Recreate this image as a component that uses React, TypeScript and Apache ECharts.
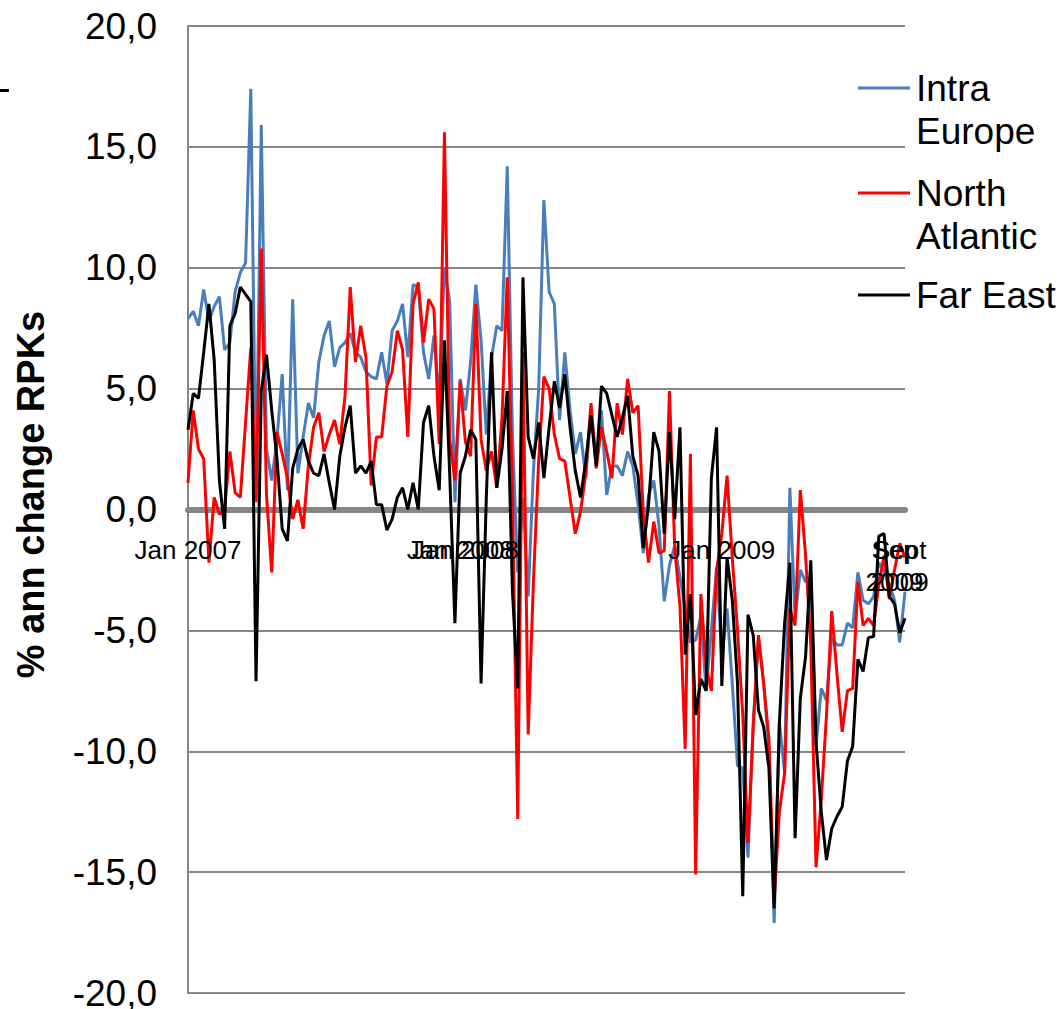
import React, { useEffect, useRef } from 'react';
import * as echarts from 'echarts';

const seriesNames = ['Intra Europe', 'North Atlantic', 'Far East'];
const legendLabels = ['Intra\nEurope', 'North\nAtlantic', 'Far East'];
const seriesColors = ['#4A7EBB', '#FF0000', '#000000'];

const intraEurope = [
  7.9, 8.2, 7.6, 9.1, 7.8, 8.4, 8.8, 6.6, 6.9, 9.0,
  9.8, 10.2, 17.4, 0.5, 15.9, 2.5, 1.2, 2.9, 5.6, 0.8,
  8.7, 1.5, 3.0, 4.4, 3.8, 6.1, 7.2, 7.8, 5.9, 6.7,
  6.9, 7.3, 6.5, 6.3, 5.7, 5.5, 5.4, 6.5, 5.2, 7.4,
  7.8, 8.5, 6.3, 9.3, 9.2, 6.5, 5.4, 7.2, 4.5, 10.0,
  8.6, 0.3, 5.4, 4.1, 6.1, 9.3, 7.0, 3.1, 6.3, 7.6,
  7.4, 14.2, 3.0, -2.6, 0.5, -3.6, 1.6, 5.0, 12.8, 9.0,
  8.5, 3.7, 6.5, 4.1, 2.3, 3.2, 1.3, 4.1, 2.0, 4.1,
  0.6, 1.8, 1.8, 1.4, 2.4, 1.8, 0.2, -1.8, 0.6, 1.2,
  -0.7, -3.8, -2.3, -1.5, -2.8, -4.1, -5.5, -5.4, -4.4, -7.5,
  -5.0, -2.4, -6.1, -4.1, -7.2, -10.6, -10.7, -14.4, -8.8, -5.3,
  -7.2, -9.9, -17.1, -8.8, -10.9, 0.9, -4.5, -2.5, -3.0, -2.8,
  -9.8, -7.4, -7.9, -5.3, -5.6, -5.6, -4.7, -4.9, -2.6, -3.75,
  -3.9, -3.6, -2.2, -2.6, -3.1, -3.75, -5.5, -3.4,
];

const northAtlantic = [
  1.1, 4.1, 2.5, 2.1, -2.2, 0.5, -0.2, 0.0, 2.4, 0.7,
  0.5, 3.6, 6.7, 0.3, 10.8, 0.6, -2.6, 3.2, 2.3, 1.3,
  -0.4, 0.4, -0.8, 1.8, 3.4, 4.0, 2.4, 3.1, 3.7, 2.7,
  4.7, 9.2, 6.1, 7.6, 6.3, 1.0, 3.0, 3.0, 5.1, 5.7,
  7.4, 6.6, 3.0, 8.5, 9.4, 6.9, 8.7, 8.3, 2.7, 15.6,
  2.9, 1.2, 5.3, 2.8, 2.2, 8.5, 2.9, 1.6, 2.4, 0.9,
  3.8, 9.6, 0.5, -12.8, 6.5, -9.3, -3.0, 2.0, 5.5, 5.0,
  3.1, 2.1, 2.0, 0.5, -1.0, -0.1, 1.5, 4.4, 1.7, 3.4,
  2.4, 1.3, 4.4, 3.1, 5.4, 4.0, 4.3, -0.2, -2.2, -0.5,
  -1.8, -1.7, 4.9, -1.6, -4.0, -9.9, 2.3, -15.1, -3.5, -6.5,
  -7.5, -2.5, -1.0, 1.4, -2.0, -5.0, -8.5, -13.8, -9.0, -5.2,
  -7.2, -9.5, -16.2, -12.5, -10.9, -4.1, -4.8, 0.8, -1.9, -5.6,
  -14.8, -12.0, -8.5, -4.2, -6.8, -9.2, -7.5, -7.4, -3.0, -4.8,
  -4.5, -4.8, -3.1, -1.9, -3.7, -2.5, -1.4, -2.0,
];

const farEast = [
  3.3, 4.8, 4.6, 6.5, 8.5, 6.2, 1.2, -0.8, 7.6, 8.1,
  9.2, 8.9, 8.6, -7.1, 4.9, 6.4, 4.1, 2.1, -0.8, -1.3,
  1.7, 2.5, 2.9, 2.0, 1.5, 1.4, 2.3, 1.1, 0.0, 2.2,
  3.4, 4.3, 1.5, 1.8, 1.5, 2.0, 0.2, 0.2, -0.85, -0.4,
  0.5, 0.9, 0.0, 1.1, 0.0, 3.6, 4.3, 2.2, 0.8, 7.0,
  1.5, -4.7, 1.5, 2.2, 3.3, 2.9, -7.2, 0.5, 6.5, 0.9,
  2.5, 4.9, -3.4, -7.4, 9.6, 3.0, 2.1, 3.6, 1.3, 3.4,
  5.3, 4.2, 5.6, 3.4, 1.6, 0.5, 2.0, 3.9, 1.8, 5.1,
  4.8, 3.9, 3.0, 3.8, 4.7, 2.2, 1.4, -1.6, 0.2, 3.2,
  2.4, -1.0, 3.2, -0.4, 3.4, -6.0, -3.5, -8.5, -7.0, -7.5,
  1.3, 3.4, -7.3, -2.0, -3.75, -7.2, -16.0, -4.35, -5.2, -8.3,
  -9.0, -10.7, -16.5, -8.8, -4.7, -2.2, -13.6, -7.8, -6.1, -2.1,
  -9.6, -12.5, -14.5, -13.2, -12.7, -12.3, -10.4, -9.8, -6.2, -6.7,
  -5.3, -5.25, -1.1, -1.0, -3.6, -3.9, -5.1, -4.5,
];

const periods = intraEurope.map((_, i) => `week ${i + 1}`);

// category index -> tick label text
const xTickLabels: [number, string][] = [
  [0, 'Jan 2007'],
  [52, 'Jan 2008'],
  [53, 'Jan 2008'],
  [102, 'Jan 2009'],
  [135, 'Sep\n2009'],
  [136, 'Sept\n2009'],
];

const yAxisTitle = '% ann change RPKs';
const yMin = -20;
const yMax = 20;
const yStep = 5;

const FONT = '"Liberation Sans", Arial, Helvetica, sans-serif';

export default function App() {
  const ref = useRef<HTMLDivElement>(null);

  useEffect(() => {
    if (!ref.current) return;
    const chart = echarts.init(ref.current, undefined, { renderer: 'svg' });
    const seriesData = [intraEurope, northAtlantic, farEast];
    const legendY = [88, 193, 295];

    chart.setOption({
      animation: false,
      backgroundColor: '#ffffff',
      grid: {
        left: 188,
        right: 154,
        top: 26,
        bottom: 16,
        containLabel: false,
        outerBoundsMode: 'none',
      },
      xAxis: {
        type: 'category',
        data: periods,
        boundaryGap: false,
        axisLine: { onZero: true, lineStyle: { color: '#868686', width: 6 } },
        axisTick: { show: false },
        splitLine: { show: false },
        axisLabel: { show: false },
      },
      yAxis: {
        type: 'value',
        min: yMin,
        max: yMax,
        interval: yStep,
        axisLine: { show: true, lineStyle: { color: '#868686', width: 2 } },
        axisTick: { show: false },
        splitLine: { show: true, lineStyle: { color: '#868686', width: 2 } },
        axisLabel: {
          formatter: (v: number) => v.toFixed(1).replace('.', ','),
          color: '#000000',
          fontFamily: FONT,
          fontSize: 37,
          margin: 31,
        },
        name: yAxisTitle,
        nameLocation: 'middle',
        nameGap: 138,
        nameRotate: 90,
        nameTextStyle: {
          color: '#000000',
          fontFamily: FONT,
          fontWeight: 'bold',
          fontSize: 38,
          padding: [0, 0, 0, 30],
        },
      },
      series: seriesNames.map((name, i) => ({
        name,
        type: 'line',
        data: seriesData[i],
        showSymbol: false,
        symbol: 'none',
        lineStyle: { color: seriesColors[i], width: 3 },
        itemStyle: { color: seriesColors[i] },
        z: 2 + i,
      })),
    });

    // x tick labels placed through the chart's own scales
    const y0 = chart.convertToPixel({ yAxisIndex: 0 }, 0) as number;
    const xLabelGraphics = xTickLabels.map(([idx, text]) => ({
      type: 'text',
      z: 100,
      x: chart.convertToPixel({ xAxisIndex: 0 }, periods[idx]) as number,
      y: y0 + 24,
      style: {
        text,
        fontSize: 26,
        lineHeight: 32,
        fontFamily: FONT,
        fill: '#000000',
        align: 'center',
        verticalAlign: 'top',
      },
    }));

    const legendGraphics: any[] = [];
    legendLabels.forEach((txt, i) => {
      legendGraphics.push({
        type: 'line',
        z: 100,
        shape: { x1: 858, y1: legendY[i], x2: 910, y2: legendY[i] },
        style: { stroke: seriesColors[i], lineWidth: 3 },
      });
      legendGraphics.push({
        type: 'text',
        z: 100,
        x: 916,
        y: legendY[i] - 21.5,
        style: {
          text: txt,
          fontSize: 37,
          lineHeight: 43,
          fontFamily: FONT,
          fill: '#000000',
          verticalAlign: 'top',
          align: 'left',
        },
      });
    });

    chart.setOption({
      graphic: [
        {
          type: 'rect',
          z: 100,
          shape: { x: 0, y: 89, width: 9, height: 3 },
          style: { fill: '#000000' },
        },
        ...xLabelGraphics,
        ...legendGraphics,
      ],
    });

    return () => chart.dispose();
  }, []);

  return (
    <div
      ref={ref}
      style={{ position: 'fixed', left: 0, top: 0, width: 1059, height: 1009, background: '#fff' }}
    />
  );
}
